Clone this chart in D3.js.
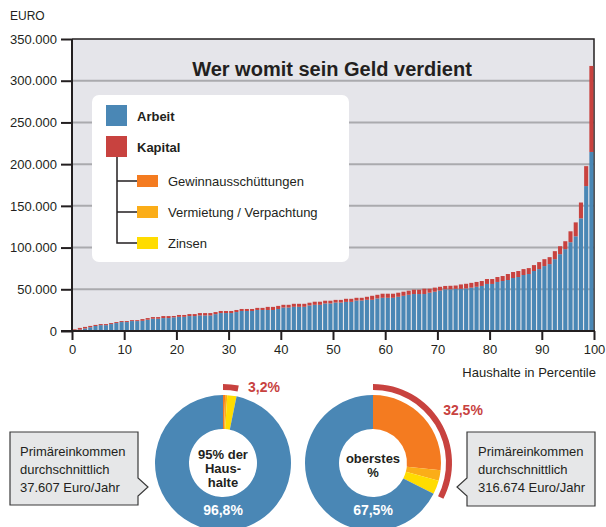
<!DOCTYPE html>
<html>
<head>
<meta charset="utf-8">
<script src="https://cdn.jsdelivr.net/npm/d3@7"></script>
<style>
    body { margin: 0; background: #fff; }
    svg { display: block; font-family: "Liberation Sans", Arial, sans-serif; }
    .axis text { font-size: 13px; fill: #231f20; }
    .axis line, .axis path { stroke: #231f20; stroke-width: 2; }
</style>
</head>
<body>
<div class="chart"></div>
<script>
// ----- DATA ----------------------------------------------------------------
// percentiles 1..100, average income per household (euro)
const percentiles = d3.range(1, 101);
const arbeit = [
    1000, 1600, 3000, 4500, 6000, 7000, 7000, 8300, 9500, 10700,
    10700, 11900, 11900, 12200, 13500, 14700, 14700, 15500, 15500, 16400,
    17000, 17000, 17900, 17900, 18600, 18600, 18600, 20200, 21500, 21500,
    21500, 22700, 24000, 24000, 24000, 25200, 25200, 25200, 25200, 26400,
    28100, 28100, 29000, 29000, 29000, 30600, 31400, 31400, 33000, 33000,
    34100, 34100, 34900, 34900, 36500, 36500, 37400, 37400, 39000, 39800,
    39800, 39800, 41000, 42200, 43400, 44300, 44300, 44300, 45900, 47100,
    48500, 50000, 50000, 50500, 50500, 51000, 52000, 53000, 54000, 56400,
    56400, 58800, 59900, 61100, 63500, 64700, 67100, 68300, 71900, 74200,
    77800, 80200, 86100, 92100, 98100, 106400, 113500, 135000, 173700, 214600
];
const gesamt = [
    2000, 3700, 4900, 6100, 7300, 8300, 8300, 9500, 10700, 11900,
    11900, 13000, 13000, 14300, 15500, 16700, 16700, 17900, 17900, 18000,
    19200, 19200, 20300, 20300, 21500, 21500, 21500, 22700, 24000, 24000,
    24000, 25200, 26400, 26400, 26400, 27700, 27700, 28900, 28900, 30100,
    31400, 31400, 32600, 32600, 32600, 33900, 35100, 35100, 36300, 36300,
    37300, 37300, 38600, 38600, 39800, 39800, 41000, 42200, 43400, 44700,
    44700, 44700, 45900, 47100, 48300, 49500, 49500, 50700, 50700, 52000,
    53000, 54000, 54200, 54500, 55800, 56600, 57700, 58800, 59900, 62300,
    62300, 64700, 65900, 68300, 70700, 71900, 74200, 75400, 79000, 82600,
    86100, 88500, 95700, 101600, 107600, 119500, 130200, 154000, 197600, 317700
];
const kapital = gesamt.map((d, i) => d - arbeit[i]);

const yTicks = [0, 50000, 100000, 150000, 200000, 250000, 300000, 350000];
const xTicks = [0, 10, 20, 30, 40, 50, 60, 70, 80, 90, 100];

// income shares in percent: Gewinnausschüttungen, Vermietung, Zinsen, Arbeit
const pieLabels = ["Gewinnausschüttungen", "Vermietung / Verpachtung", "Zinsen", "Arbeit"];
const pieUnten95 = [0.5, 0.5, 2.2, 96.8];
const pieOberstes = [26.7, 2.5, 3.3, 67.5];

// colours
const COL = {
    arbeit: "#4a87b5",
    kapital: "#c8423f",
    gewinn: "#f47b20",
    vermietung: "#fbad18",
    zinsen: "#ffdc00",
    panel: "#e5e5ea",
    grid: "#aaaaae",
    ink: "#231f20"
};
const pieColours = [COL.gewinn, COL.vermietung, COL.zinsen, COL.arbeit];

const de = d3.formatLocale({ decimal: ",", thousands: ".", grouping: [3], currency: ["", " €"] });


// ----- PRIVATE FUNCTIONS ----------------------------------------------
function _drawBarChart( svg )
{
    const plot = { left: 72, right: 594, top: 39, bottom: 331 };

    let x = d3.scaleLinear().domain([0, 100]).range([plot.left, plot.right]);
    let y = d3.scaleLinear().domain([0, 350000]).range([plot.bottom, plot.top]);

    // grey panel
    svg.append("rect")
        .attr("x", plot.left)
        .attr("y", plot.top)
        .attr("width", plot.right - plot.left)
        .attr("height", plot.bottom - plot.top)
        .attr("fill", COL.panel);

    // gridlines
    svg.append("g").selectAll("line")
        .data(yTicks.slice(1, -1))
        .enter()
            .append("line")
            .attr("x1", plot.left)
            .attr("x2", plot.right)
            .attr("y1", d => y(d))
            .attr("y2", d => y(d))
            .attr("stroke", COL.grid)
            .attr("stroke-width", 2);

    // frame top & right
    svg.append("path")
        .attr("d", "M" + plot.left + "," + plot.top + "H" + plot.right + "V" + plot.bottom)
        .attr("fill", "none")
        .attr("stroke", COL.ink)
        .attr("stroke-width", 1.5);

    // bars
    const step = x(1) - x(0);
    const barW = step * 0.78;

    let bars = svg.append("g").selectAll("g")
        .data(percentiles)
        .enter()
            .append("g");

    bars.append("rect")
        .attr("x", d => x(d - 1) + (step - barW) / 2)
        .attr("width", barW)
        .attr("y", (d, i) => y(arbeit[i]))
        .attr("height", (d, i) => y(0) - y(arbeit[i]))
        .attr("fill", COL.arbeit);

    bars.append("rect")
        .attr("x", d => x(d - 1) + (step - barW) / 2)
        .attr("width", barW)
        .attr("y", (d, i) => y(arbeit[i] + kapital[i]))
        .attr("height", (d, i) => y(arbeit[i]) - y(arbeit[i] + kapital[i]))
        .attr("fill", COL.kapital);

    // axes
    svg.append("g")
        .attr("class", "axis")
        .attr("transform", "translate(" + plot.left + ",0)")
        .call(d3.axisLeft(y).tickValues(yTicks).tickSize(11).tickPadding(4).tickFormat(de.format(",")))
        .call(g => g.select(".domain").remove());

    svg.append("g")
        .attr("class", "axis")
        .attr("transform", "translate(0," + plot.bottom + ")")
        .call(d3.axisBottom(x).tickValues(xTicks).tickSize(9).tickPadding(5))
        .call(g => g.select(".domain").remove());

    svg.append("line")
        .attr("x1", plot.left).attr("x2", plot.left)
        .attr("y1", plot.top).attr("y2", plot.bottom)
        .attr("stroke", COL.ink).attr("stroke-width", 2);
    svg.append("line")
        .attr("x1", plot.left - 11).attr("x2", plot.right + 1)
        .attr("y1", plot.bottom).attr("y2", plot.bottom)
        .attr("stroke", COL.ink).attr("stroke-width", 2);

    // axis titles
    svg.append("text")
        .text("EURO")
        .attr("x", 10).attr("y", 20)
        .attr("font-size", 12).attr("fill", COL.ink);

    svg.append("text")
        .text("Haushalte in Percentile")
        .attr("x", 596).attr("y", 377)
        .attr("text-anchor", "end")
        .attr("font-size", 13).attr("fill", COL.ink);

    // chart title
    svg.append("text")
        .text("Wer womit sein Geld verdient")
        .attr("x", 332).attr("y", 76)
        .attr("text-anchor", "middle")
        .attr("font-size", 20).attr("font-weight", "bold")
        .attr("fill", COL.ink);
}

function _drawLegend( svg )
{
    let lg = svg.append("g");

    lg.append("rect")
        .attr("x", 92).attr("y", 95)
        .attr("width", 257).attr("height", 167)
        .attr("rx", 7).attr("ry", 7)
        .attr("fill", "#fff");

    // tree lines from Kapital to its parts
    lg.append("path")
        .attr("d", "M117,157V243H137M117,181H137M117,212H137")
        .attr("fill", "none")
        .attr("stroke", COL.ink)
        .attr("stroke-width", 1.5);

    const main = [
        { name: "Arbeit", colour: COL.arbeit, y: 105 },
        { name: "Kapital", colour: COL.kapital, y: 136 }
    ];
    lg.selectAll(".main").data(main).enter().append("rect")
        .attr("x", 106).attr("y", d => d.y)
        .attr("width", 21).attr("height", 21)
        .attr("fill", d => d.colour);
    lg.selectAll(".mainText").data(main).enter().append("text")
        .text(d => d.name)
        .attr("x", 137).attr("y", d => d.y + 16)
        .attr("font-size", 13).attr("font-weight", "bold")
        .attr("fill", COL.ink);

    const sub = [
        { name: pieLabels[0], colour: COL.gewinn, y: 175 },
        { name: pieLabels[1], colour: COL.vermietung, y: 206 },
        { name: pieLabels[2], colour: COL.zinsen, y: 237 }
    ];
    lg.selectAll(".sub").data(sub).enter().append("rect")
        .attr("x", 137).attr("y", d => d.y)
        .attr("width", 21).attr("height", 12)
        .attr("fill", d => d.colour);
    lg.selectAll(".subText").data(sub).enter().append("text")
        .text(d => d.name)
        .attr("x", 168).attr("y", d => d.y + 11)
        .attr("font-size", 13)
        .attr("fill", COL.ink);
}

function _drawPie( svg, cx, cy, shares, hole, kapitalText, kapitalPos, arbeitText )
{
    let g = svg.append("g").attr("transform", "translate(" + cx + "," + cy + ")");

    let pie = d3.pie().sort(null).value(d => d);
    let arc = d3.arc().innerRadius(34).outerRadius(68);

    g.selectAll("path.slice")
        .data(pie(shares))
        .enter()
            .append("path")
            .attr("d", arc)
            .attr("fill", (d, i) => pieColours[i]);

    // red ring for the capital share
    const kapitalShare = d3.sum(shares.slice(0, 3)) / d3.sum(shares);
    g.append("path")
        .attr("d", d3.arc()({ innerRadius: 73, outerRadius: 79, startAngle: 0, endAngle: kapitalShare * 2 * Math.PI }))
        .attr("fill", COL.kapital);

    g.append("text")
        .text(kapitalText)
        .attr("x", kapitalPos[0]).attr("y", kapitalPos[1])
        .attr("text-anchor", "middle")
        .attr("font-size", 14).attr("font-weight", "bold")
        .attr("fill", COL.kapital);

    g.append("text")
        .text(arbeitText)
        .attr("x", 0).attr("y", 52)
        .attr("text-anchor", "middle")
        .attr("font-size", 14).attr("font-weight", "bold")
        .attr("fill", "#fff");

    // label in the hole
    g.append("text")
        .selectAll("tspan")
        .data(hole.lines)
        .enter()
            .append("tspan")
            .text(d => d)
            .attr("x", 0)
            .attr("y", (d, i) => hole.y + i * hole.step)
            .attr("text-anchor", "middle")
            .attr("font-size", 13).attr("font-weight", "bold")
            .attr("fill", COL.ink);
}

function _drawCallout( svg, pathD, tx, lines )
{
    svg.append("path")
        .attr("d", pathD)
        .attr("fill", "#e6e7e8")
        .attr("stroke", "#3a3a3a")
        .attr("stroke-width", 1.2);

    svg.append("text")
        .selectAll("tspan")
        .data(lines)
        .enter()
            .append("tspan")
            .text(d => d)
            .attr("x", tx)
            .attr("y", (d, i) => 456 + i * 18)
            .attr("font-size", 13)
            .attr("fill", COL.ink);
}

// ***** DRAW ****************************************************
const width = 606, height = 527;

let svg = d3.select(".chart").append("svg")
    .attr("width", width)
    .attr("height", height);

_drawBarChart( svg );
_drawLegend( svg );

_drawPie( svg, 223, 463, pieUnten95,
    { lines: ["95% der", "Haus-", "halte"], y: -4, step: 14 },
    "3,2%", [41, -71], "96,8%" );
_drawPie( svg, 373, 463, pieOberstes,
    { lines: ["oberstes", "%"], y: 0, step: 14 },
    "32,5%", [90, -48], "67,5%" );

_drawCallout( svg, "M10,432H138V478L148,487L138,496V505H10Z", 20,
    ["Primäreinkommen", "durchschnittlich", "37.607 Euro/Jahr"] );
_drawCallout( svg, "M467,432H595V506H467V496L457,487L467,478Z", 478,
    ["Primäreinkommen", "durchschnittlich", "316.674 Euro/Jahr"] );
</script>
</body>
</html>
